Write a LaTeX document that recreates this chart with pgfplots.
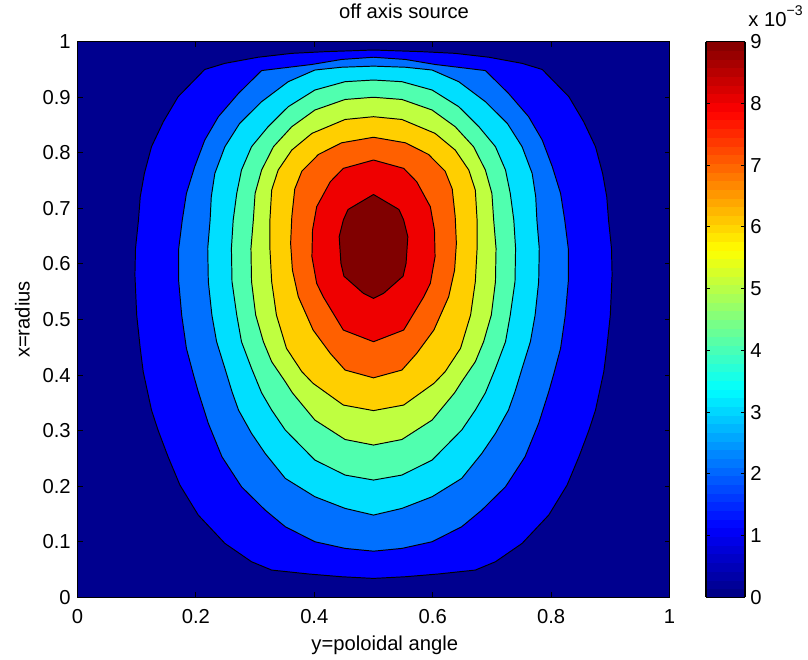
\documentclass[border=0pt]{standalone}
\usepackage{fontspec}
\setmainfont{Liberation Sans}
\usepackage{pgfplots}
\pgfplotsset{compat=1.18}
% fill colours of the contour bands (jet, levels 0..9 x 1e-3)
\definecolor{lv0}{RGB}{0,0,143}
\definecolor{lv1}{RGB}{0,0,255}
\definecolor{lv2}{RGB}{0,112,255}
\definecolor{lv3}{RGB}{0,223,255}
\definecolor{lv4}{RGB}{80,255,175}
\definecolor{lv5}{RGB}{191,255,64}
\definecolor{lv6}{RGB}{255,207,0}
\definecolor{lv7}{RGB}{255,96,0}
\definecolor{lv8}{RGB}{239,0,0}
\definecolor{lv9}{RGB}{128,0,0}

\begin{document}
\fontsize{11.5}{13.5}\selectfont
\begin{tikzpicture}
\path[use as bounding box] (-1.55cm,-1.254cm) rectangle (14.61cm,11.946cm);
\begin{axis}[
  scale only axis,width=11.84cm,height=11.112cm,
  xmin=0,xmax=1,ymin=0,ymax=1,
  clip=false,axis on top,
  axis background/.style={fill=lv0},
  axis line style={line width=0.7pt},
  xtick={0,0.2,0.4,0.6,0.8,1},
  ytick={0,0.1,0.2,0.3,0.4,0.5,0.6,0.7,0.8,0.9,1},
  tick align=inside,tick pos=both,major tick length=0.1cm,
  tick style={black,line width=0.5pt},
  /pgf/number format/assume math mode=true,
  /pgf/number format/fixed,
  xticklabel style={anchor=base,yshift=-0.52cm,inner sep=0pt},
  yticklabel style={anchor=east,xshift=-0.13cm,inner sep=0pt},
  xlabel={y=poloidal angle},
  xlabel style={at={(axis description cs:0.519,-0.0949)},anchor=base,inner sep=0pt},
  ylabel={x=radius},
  ylabel style={at={(axis description cs:-0.093,0.5)},anchor=center,inner sep=0pt},
  colormap/jet,
  point meta min=0,point meta max=9,
  colorbar sampled,
  colorbar style={
    at={(parent axis.north east)},anchor=north west,xshift=0.43cm,
    scale only axis,width=0.78cm,height=11.112cm,
    samples=65,
    axis line style={line width=0.7pt},
    ytick={0,1,2,3,4,5,6,7,8,9},
    ytick pos=both,yticklabel pos=right,
    tick align=inside,major tick length=0.08cm,
    tick style={black,line width=0.5pt},
    /pgf/number format/assume math mode=true,
    yticklabel style={anchor=west,xshift=0.1cm,inner sep=0pt},
  },
  ctr/.style={draw=black,line width=0.55pt,line join=round},
]
% level 1e-3
\addplot[ctr,fill=lv1] coordinates {
(0.5,0.985) (0.418,0.982) (0.362,0.979) (0.305,0.972) (0.249,0.961) (0.215,0.950)
(0.170,0.901) (0.145,0.856) (0.125,0.811) (0.113,0.763) (0.106,0.721) (0.103,0.679)
(0.098,0.628) (0.097,0.580) (0.100,0.508) (0.106,0.448) (0.111,0.406) (0.125,0.337)
(0.136,0.301) (0.153,0.253) (0.173,0.202) (0.204,0.148) (0.249,0.097) (0.294,0.064)
(0.328,0.049) (0.390,0.042) (0.446,0.037) (0.5,0.034)
(0.554,0.037) (0.610,0.042) (0.672,0.049) (0.706,0.064) (0.751,0.097) (0.796,0.148)
(0.827,0.202) (0.847,0.253) (0.864,0.301) (0.875,0.337) (0.889,0.406) (0.894,0.448)
(0.900,0.508) (0.903,0.580) (0.902,0.628) (0.897,0.679) (0.894,0.721) (0.887,0.763)
(0.875,0.811) (0.855,0.856) (0.830,0.901) (0.785,0.950) (0.751,0.961) (0.695,0.972)
(0.638,0.979) (0.582,0.982) (0.5,0.985)} --cycle;
% level 2e-3
\addplot[ctr,fill=lv2] coordinates {
(0.5,0.972) (0.446,0.968) (0.396,0.959) (0.311,0.948) (0.272,0.907) (0.238,0.865)
(0.215,0.823) (0.198,0.775) (0.184,0.727) (0.177,0.679) (0.171,0.628) (0.171,0.568)
(0.176,0.508) (0.184,0.448) (0.196,0.400) (0.204,0.370) (0.221,0.313) (0.244,0.253)
(0.277,0.199) (0.317,0.157) (0.351,0.127) (0.401,0.100) (0.452,0.088) (0.5,0.083)
(0.548,0.088) (0.599,0.100) (0.649,0.127) (0.683,0.157) (0.723,0.199) (0.756,0.253)
(0.779,0.313) (0.796,0.370) (0.804,0.400) (0.816,0.448) (0.824,0.508) (0.829,0.568)
(0.829,0.628) (0.823,0.679) (0.816,0.727) (0.802,0.775) (0.785,0.823) (0.762,0.865)
(0.728,0.907) (0.689,0.948) (0.604,0.959) (0.554,0.968) (0.5,0.972)} --cycle;
% level 3e-3
\addplot[ctr,fill=lv3] coordinates {
(0.5,0.956) (0.446,0.954) (0.401,0.949) (0.356,0.928) (0.311,0.892) (0.274,0.853)
(0.249,0.811) (0.232,0.763) (0.226,0.721) (0.224,0.679) (0.220,0.628) (0.221,0.568)
(0.227,0.508) (0.235,0.460) (0.249,0.412) (0.261,0.370) (0.272,0.337) (0.294,0.295)
(0.317,0.259) (0.351,0.214) (0.401,0.181) (0.452,0.160) (0.5,0.148)
(0.548,0.160) (0.599,0.181) (0.649,0.214) (0.683,0.259) (0.706,0.295) (0.728,0.337)
(0.739,0.370) (0.751,0.412) (0.765,0.460) (0.773,0.508) (0.779,0.568) (0.780,0.628)
(0.776,0.679) (0.774,0.721) (0.768,0.763) (0.751,0.811) (0.726,0.853) (0.689,0.892)
(0.644,0.928) (0.599,0.949) (0.554,0.954) (0.5,0.956)} --cycle;
% level 4e-3
\addplot[ctr,fill=lv4] coordinates {
(0.5,0.931) (0.452,0.928) (0.401,0.913) (0.356,0.883) (0.322,0.847) (0.294,0.811)
(0.277,0.769) (0.269,0.727) (0.263,0.679) (0.260,0.628) (0.261,0.568) (0.269,0.508)
(0.277,0.460) (0.294,0.412) (0.311,0.368) (0.328,0.337) (0.351,0.301) (0.401,0.247)
(0.452,0.220) (0.5,0.211)
(0.548,0.220) (0.599,0.247) (0.649,0.301) (0.672,0.337) (0.689,0.368) (0.706,0.412)
(0.723,0.460) (0.731,0.508) (0.739,0.568) (0.740,0.628) (0.737,0.679) (0.731,0.727)
(0.723,0.769) (0.706,0.811) (0.678,0.847) (0.644,0.883) (0.599,0.913) (0.548,0.928)
(0.5,0.931)} --cycle;
% level 5e-3
\addplot[ctr,fill=lv5] coordinates {
(0.5,0.900) (0.452,0.896) (0.401,0.877) (0.362,0.847) (0.331,0.811) (0.311,0.769)
(0.300,0.727) (0.297,0.679) (0.293,0.628) (0.294,0.568) (0.301,0.508) (0.314,0.460)
(0.328,0.424) (0.351,0.388) (0.363,0.368) (0.401,0.319) (0.452,0.284) (0.5,0.274)
(0.548,0.284) (0.599,0.319) (0.637,0.368) (0.649,0.388) (0.672,0.424) (0.686,0.460)
(0.699,0.508) (0.706,0.568) (0.707,0.628) (0.703,0.679) (0.700,0.727) (0.689,0.769)
(0.669,0.811) (0.638,0.847) (0.599,0.877) (0.548,0.896) (0.5,0.900)} --cycle;
% level 6e-3
\addplot[ctr,fill=lv6] coordinates {
(0.5,0.865) (0.452,0.860) (0.396,0.835) (0.362,0.805) (0.339,0.769) (0.328,0.733)
(0.325,0.679) (0.325,0.628) (0.328,0.568) (0.336,0.508) (0.353,0.448) (0.379,0.406)
(0.398,0.385) (0.449,0.346) (0.5,0.336)
(0.551,0.346) (0.602,0.385) (0.621,0.406) (0.647,0.448) (0.664,0.508) (0.672,0.568)
(0.675,0.628) (0.675,0.679) (0.672,0.733) (0.661,0.769) (0.638,0.805) (0.604,0.835)
(0.548,0.860) (0.5,0.865)} --cycle;
% level 7e-3
\addplot[ctr,fill=lv7] coordinates {
(0.5,0.828) (0.446,0.818) (0.407,0.797) (0.379,0.767) (0.367,0.735) (0.362,0.685)
(0.360,0.637) (0.363,0.589) (0.373,0.541) (0.398,0.481) (0.427,0.439) (0.452,0.409)
(0.5,0.395)
(0.548,0.409) (0.573,0.439) (0.602,0.481) (0.627,0.541) (0.637,0.589) (0.640,0.637)
(0.638,0.685) (0.633,0.735) (0.621,0.767) (0.593,0.797) (0.554,0.818) (0.5,0.828)} --cycle;
% level 8e-3
\addplot[ctr,fill=lv8] coordinates {
(0.5,0.787) (0.449,0.772) (0.427,0.748) (0.404,0.703) (0.397,0.661) (0.396,0.613)
(0.404,0.565) (0.415,0.541) (0.449,0.481) (0.5,0.460)
(0.551,0.481) (0.585,0.541) (0.596,0.565) (0.604,0.613) (0.603,0.661) (0.596,0.703)
(0.573,0.748) (0.551,0.772) (0.5,0.787)} --cycle;
% level 9e-3
\addplot[ctr,fill=lv9] coordinates {
(0.5,0.725) (0.457,0.698) (0.449,0.679) (0.442,0.649) (0.445,0.601) (0.450,0.578)
(0.483,0.547) (0.5,0.538)
(0.517,0.547) (0.550,0.578) (0.555,0.601) (0.558,0.649) (0.551,0.679) (0.543,0.698)
(0.5,0.725)} --cycle;
\node[anchor=base,inner sep=0pt] at (rel axis cs:0.5515,1.0409) {off axis source};
\node[anchor=base west,inner sep=0pt] at (rel axis cs:1.1326,1.0265)
  {x 10\raisebox{0.55em}{\fontsize{8}{8}\selectfont −3}};
\end{axis}
\end{tikzpicture}
\end{document}
